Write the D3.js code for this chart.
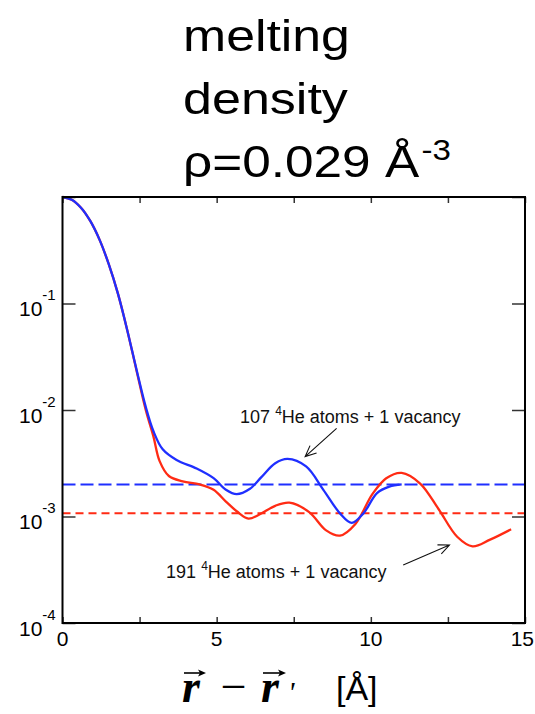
<!DOCTYPE html>
<html><head><meta charset="utf-8">
<script src="https://cdn.jsdelivr.net/npm/d3@7"></script>
<style>body{margin:0;background:#fff}svg{display:block}</style>
</head><body><svg id="c" width="535" height="714"></svg>
<script>
// ---- data ----
const blueX = [0,0.3,0.6,0.9,1.2,1.5,1.8,2.1,2.4,2.7,2.95,3.25,3.7,4.35,4.9,5.3,5.65,6.08,6.45,6.9,7.3,7.9,8.46,9.0,9.38,9.76,10.2,10.6,11.0];
const blueY = [1,0.944,0.794,0.596,0.398,0.234,0.123,0.0562,0.0240,0.0107,0.00631,0.00427,0.00339,0.00282,0.00229,0.00178,0.00162,0.00182,0.00234,0.00316,0.00347,0.00295,0.00178,0.00107,0.000871,0.00107,0.00166,0.00191,0.00200];
const redX = [0,0.3,0.6,0.9,1.2,1.5,1.8,2.1,2.4,2.7,2.95,3.15,3.45,3.9,4.45,4.9,5.3,5.65,6.03,6.4,6.9,7.36,8.0,8.55,9.0,9.5,10.05,10.5,11.0,11.6,12.2,12.8,13.3,13.85,14.55];
const redY = [1,0.944,0.794,0.596,0.398,0.234,0.123,0.0562,0.0235,0.0100,0.00562,0.00331,0.00240,0.00214,0.00200,0.00178,0.00138,0.00112,0.000955,0.00105,0.00126,0.00135,0.00110,0.000741,0.000661,0.000851,0.00162,0.00229,0.00257,0.00204,0.00117,0.000646,0.000525,0.000603,0.000759];
const blueLevel = 0.00200;
const redLevel = 0.00107;
const xTicks = [0,2.5,5,7.5,10,12.5,15];
const xLabels = [0,5,10,15];
const yTicks = [1e-4,1e-3,1e-2,1e-1,1];
const yLabels = [[1e-4,"-4"],[1e-3,"-3"],[1e-2,"-2"],[1e-1,"-1"]];
const titleLines = ["melting","density"];
const annotations = [
  {num:"107", text:"He atoms + 1 vacancy", tx:5.76, ty:0.0075, ax0:8.89, ay0:0.00673, ax1:7.87, ay1:0.00365},
  {num:"191", text:"He atoms + 1 vacancy", tx:3.36, ty:0.000263, ax0:11.05, ay0:0.000351, ax1:12.55, ay1:0.00054}
];
const BLUE = "#1f2fff", RED = "#ff2b14";

// ---- scales ----
const svg = d3.select("#c");
const x = d3.scaleLinear().domain([0,15]).range([62.5,525]);
const y = d3.scaleLog().domain([1e-4,1]).range([623,197]);

// ---- title ----
const sans = "'Liberation Sans', Arial, sans-serif";
function fitText(sel, x0, targetW){
  const w = sel.node().getBBox().width;
  sel.attr("transform", `translate(${x0},0) scale(${targetW/w},1)`);
}
const tl1 = svg.append("text").attr("x",0).attr("y",51).attr("font-family",sans).attr("font-size",45).text(titleLines[0]);
fitText(tl1,183,167);
const tl2 = svg.append("text").attr("x",0).attr("y",114).attr("font-family",sans).attr("font-size",45).text(titleLines[1]);
fitText(tl2,183,165.5);
const tl3 = svg.append("text").attr("x",0).attr("y",177).attr("font-family",sans).attr("font-size",45);
tl3.append("tspan").text("ρ=0.029 Å");
tl3.append("tspan").attr("dx",2).attr("dy",-17).attr("font-size",29).text("-3");
fitText(tl3,183,268);

// ---- dashed reference levels ----
svg.append("line").attr("x1",x(0)).attr("x2",x(15)).attr("y1",y(blueLevel)).attr("y2",y(blueLevel))
  .attr("stroke",BLUE).attr("stroke-width",2).attr("stroke-dasharray","13,5");
svg.append("line").attr("x1",x(0)).attr("x2",x(15)).attr("y1",y(redLevel)).attr("y2",y(redLevel))
  .attr("stroke",RED).attr("stroke-width",2).attr("stroke-dasharray","8,5");

// ---- curves ----
const line = d3.line().x(d=>x(d[0])).y(d=>y(d[1])).curve(d3.curveCatmullRom.alpha(0.5));
svg.append("path").datum(d3.zip(redX,redY)).attr("d",line).attr("fill","none").attr("stroke",RED).attr("stroke-width",2.3);
svg.append("path").datum(d3.zip(blueX,blueY)).attr("d",line).attr("fill","none").attr("stroke",BLUE).attr("stroke-width",2.3);

// ---- axes (ticks inward) ----
const tickStyle = g => { g.select(".domain").remove(); g.selectAll("line").attr("stroke","#333").attr("stroke-width",1.5); };
svg.append("g").attr("transform",`translate(0,${y(1e-4)})`).call(d3.axisBottom(x).tickValues(xTicks).tickSize(-6).tickFormat("")).call(tickStyle);
svg.append("g").attr("transform",`translate(0,${y(1)})`).call(d3.axisTop(x).tickValues(xTicks).tickSize(-6).tickFormat("")).call(tickStyle);
svg.append("g").attr("transform",`translate(${x(0)},0)`).call(d3.axisLeft(y).tickValues(yTicks).tickSize(-13).tickFormat("")).call(tickStyle);
svg.append("g").attr("transform",`translate(${x(15)},0)`).call(d3.axisRight(y).tickValues(yTicks).tickSize(-13).tickFormat("")).call(tickStyle);
svg.append("rect").attr("x",x(0)).attr("y",y(1)).attr("width",x(15)-x(0)).attr("height",y(1e-4)-y(1))
  .attr("fill","none").attr("stroke","#000").attr("stroke-width",2);

// tick labels
svg.selectAll(".xl").data(xLabels).enter().append("text").attr("class","xl")
  .attr("x",d=>d===15 ? 534 : x(d)).attr("y",y(1e-4)+23).attr("text-anchor",d=>d===15 ? "end" : "middle")
  .attr("font-family",sans).attr("font-size",21).text(d=>d);
const yl = svg.selectAll(".yl").data(yLabels).enter().append("text").attr("class","yl")
  .attr("x",19).attr("y",d=>y(d[0])+12.5).attr("font-family",sans).attr("font-size",21);
yl.append("tspan").text("10");
yl.append("tspan").attr("dy",-16).attr("font-size",15).text(d=>d[1]);

// ---- annotations ----
annotations.forEach(a=>{
  const t = svg.append("text").attr("x",x(a.tx)).attr("y",y(a.ty)).attr("font-family",sans).attr("font-size",18).attr("fill","#111");
  t.append("tspan").text(a.num+" ");
  t.append("tspan").attr("dy",-8).attr("font-size",12).text("4");
  t.append("tspan").attr("dy",8).text(a.text);
  const x0=x(a.ax0), y0=y(a.ay0), x1=x(a.ax1), y1=y(a.ay1);
  const ang = Math.atan2(y1-y0,x1-x0), L=12, s=0.42;
  const p1=[x1-L*Math.cos(ang-s), y1-L*Math.sin(ang-s)], p2=[x1-L*Math.cos(ang+s), y1-L*Math.sin(ang+s)];
  svg.append("path").attr("d",`M${x0},${y0}L${x1},${y1}M${p1[0]},${p1[1]}L${x1},${y1}L${p2[0]},${p2[1]}`)
    .attr("fill","none").attr("stroke","#111").attr("stroke-width",1.1);
});

// ---- x-axis title: r - r'  [Å] ----
const serif = "'Liberation Serif', 'Times New Roman', serif";
function vecArrow(xa, xb, yy){
  svg.append("line").attr("x1",xa).attr("x2",xb-3).attr("y1",yy).attr("y2",yy).attr("stroke","#000").attr("stroke-width",1.6);
  svg.append("path").attr("d",`M${xb},${yy}L${xb-8},${yy-3.5}L${xb-6},${yy}L${xb-8},${yy+3.5}Z`).attr("fill","#000");
}
const base = 702;
svg.append("text").attr("x",182).attr("y",base).attr("font-family",serif).attr("font-style","italic").attr("font-weight","bold").attr("font-size",46).text("r");
vecArrow(184,206,673);
svg.append("text").attr("x",233.7).attr("y",base).attr("text-anchor","middle").attr("font-family",serif).attr("font-size",46).text("−");
svg.append("text").attr("x",261).attr("y",base).attr("font-family",serif).attr("font-style","italic").attr("font-weight","bold").attr("font-size",46).text("r");
vecArrow(263,286,673);
svg.append("text").attr("x",288).attr("y",base).attr("font-family",serif).attr("font-style","italic").attr("font-size",30).text("'");
svg.append("text").attr("x",336).attr("y",700).attr("font-family",sans).attr("font-size",34).text("[Å]");
</script></body></html>
